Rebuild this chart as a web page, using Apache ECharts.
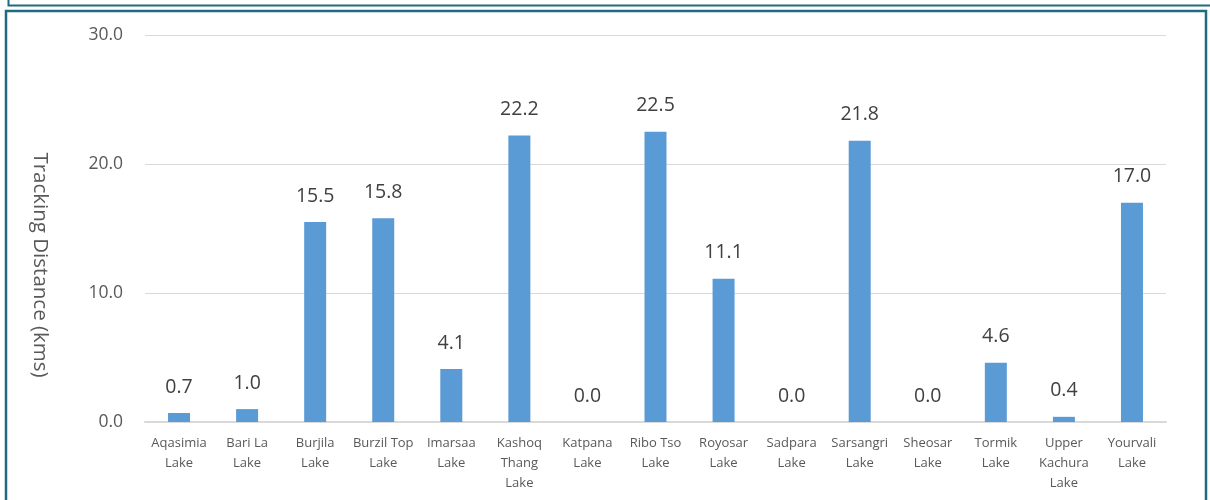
<!DOCTYPE html>
<html>
<head>
<meta charset="utf-8">
<script src="https://cdn.jsdelivr.net/npm/echarts@6/dist/echarts.min.js"></script>
<style>
html,body{margin:0;padding:0;background:#fff;}
#c{width:1210px;height:500px;}
</style>
</head>
<body>
<div id="c"></div>
<script>
var categories = ["Aqasimia\nLake","Bari La\nLake","Burjila\nLake","Burzil Top\nLake","Imarsaa\nLake","Kashoq\nThang\nLake","Katpana\nLake","Ribo Tso\nLake","Royosar\nLake","Sadpara\nLake","Sarsangri\nLake","Sheosar\nLake","Tormik\nLake","Upper\nKachura\nLake","Yourvali\nLake"];
var distances = [0.7, 1.0, 15.5, 15.8, 4.1, 22.2, 0.0, 22.5, 11.1, 0.0, 21.8, 0.0, 4.6, 0.4, 17.0];
var yTicks = [0, 10, 20, 30];
var yTitle = "Tracking Distance (kms)";

var FONT = '"Open Sans", "Liberation Sans", sans-serif';
var chart = echarts.init(document.getElementById('c'), null, {renderer:'canvas'});
chart.setOption({
  animation: false,
  backgroundColor: '#ffffff',
  grid: {left: 145, right: 44, top: 35, bottom: 78, containLabel: false},
  xAxis: {
    type: 'category',
    data: categories,
    axisLine: {show: true, lineStyle: {color: '#D9D9D9', width: 2}},
    axisTick: {show: false},
    axisLabel: {color: '#595959', fontFamily: FONT, fontSize: 13, lineHeight: 20, margin: 11, interval: 0}
  },
  yAxis: {
    type: 'value',
    min: yTicks[0],
    max: yTicks[yTicks.length - 1],
    interval: 10,
    axisLine: {show: false},
    axisTick: {show: false},
    splitLine: {lineStyle: {color: '#D9D9D9', width: 1}},
    axisLabel: {color: '#595959', fontFamily: FONT, fontSize: 17.5, margin: 22,
      formatter: function(v){ return v.toFixed(1); }}
  },
  series: [{
    type: 'bar',
    data: distances,
    barWidth: 22,
    itemStyle: {color: '#5B9BD5'},
    label: {
      show: true, position: 'top', distance: 16,
      color: '#404040', fontFamily: FONT, fontSize: 19.5,
      formatter: function(p){ return p.value.toFixed(1); }
    }
  }],
  graphic: [
    {type: 'rect', silent: true, shape: {x: 8.5, y: -10, width: 1210, height: 15.5},
     style: {fill: 'none', stroke: '#1F6B7F', lineWidth: 2}},
    {type: 'rect', silent: true, shape: {x: 6, y: 11, width: 1200, height: 500},
     style: {fill: 'none', stroke: '#1F6B7F', lineWidth: 2.5}},
    {type: 'text', silent: true, x: 40, y: 265, rotation: -Math.PI/2,
     style: {text: yTitle, fill: '#595959', font: '20.5px ' + FONT, align: 'center', verticalAlign: 'middle'}}
  ]
});
</script>
</body>
</html>
